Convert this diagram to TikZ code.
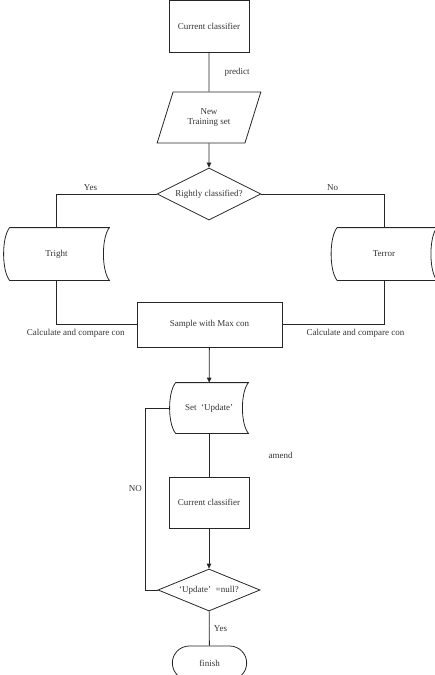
\documentclass[tikz,border=0pt]{standalone}
\usepackage{fontspec}
\setmainfont{Liberation Serif}
\usetikzlibrary{shapes.geometric, shapes.misc, arrows.meta, positioning, calc}

% stored data outline round a plain node
\newcommand{\datashape}[1]{%
  \draw ($(#1.north west)+(6pt,0)$) -- (#1.north east)
    .. controls +(-8pt,-10pt) and +(-8pt,10pt) .. (#1.south east)
    -- ($(#1.south west)+(6pt,0)$)
    .. controls +(-8pt,10pt) and +(-8pt,-10pt) .. ($(#1.north west)+(6pt,0)$);}

\begin{document}
\begin{tikzpicture}[
    x=1pt, y=-1pt,
    line width=0.8pt, color=black!85,
    every node/.style={font=\fontsize{9}{10.5}\selectfont, text=black!80},
    process/.style={rectangle, draw, minimum width=80pt, minimum height=52pt, inner sep=2pt},
    dataio/.style={trapezium, draw, trapezium left angle=64, trapezium right angle=116, trapezium stretches=true, minimum width=104pt, minimum height=51pt, inner sep=1pt, align=center},
    decision/.style={diamond, draw, aspect=2, inner sep=0pt, minimum width=104pt, minimum height=52pt},
    storebox/.style={rectangle, inner sep=0pt, minimum width=105pt, minimum height=52pt},
    terminal/.style={rounded rectangle, draw, minimum width=81pt, minimum height=34pt},
    arrow/.style={-{Triangle[length=5pt,width=4.5pt]}}
]
    \useasboundingbox (0,0) rectangle (435,675);

    % Top part: prediction
    \node[process] (cur) at (209,26) {Current classifier};
    \node[dataio] (newset) at (209,117.5) {New\\Training set};
    \node[decision] (judge) at (209,194) {Rightly classified?};
    \draw (cur) -- node[midway, right=12pt] {predict} (newset);
    \draw[arrow] (newset) -- (judge);

    % Two stores
    \node[storebox] (tright) at (56.5,254) {Tright};
    \node[storebox] (terror) at (384,254) {Terror};
    \datashape{tright}
    \datashape{terror}
    \draw (judge.west) -| node[pos=0.33, above] {Yes} (tright.north);
    \draw (judge.east) -| node[pos=0.29, above] {No} (terror.north);

    % Merge
    \node[process, minimum width=145pt, minimum height=45pt] (sample) at (209.5,324.5) {Sample with Max con};
    \draw (tright.south) |- node[pos=0.62, below=1pt] {Calculate and compare con} (sample.west);
    \draw (terror.south) |- node[pos=0.64, below=1pt] {Calculate and compare con} (sample.east);

    % Update loop
    \node[storebox, minimum width=78pt, minimum height=50pt] (setupd) at (209,408) {Set\enspace‘Update’};
    \datashape{setupd}
    \node[process, minimum height=51pt] (cur2) at (209,502.5) {Current classifier};
    \node[decision, minimum width=102pt, minimum height=42pt] (check) at (209,590) {‘Update’\enspace=null?};
    \node[terminal] (finish) at (209.5,663) {finish};
    \draw[arrow] (sample) -- (setupd);
    \draw (setupd) -- node[midway, right=56pt] {amend} (cur2);
    \draw[arrow] (cur2) -- (check);
    \draw (check.west) -- ++(-12,0) |- node[pos=0.28, left=0pt] {NO} (setupd.west);
    \draw (check) -- node[midway, right=1pt] {Yes} (finish);
\end{tikzpicture}
\end{document}
